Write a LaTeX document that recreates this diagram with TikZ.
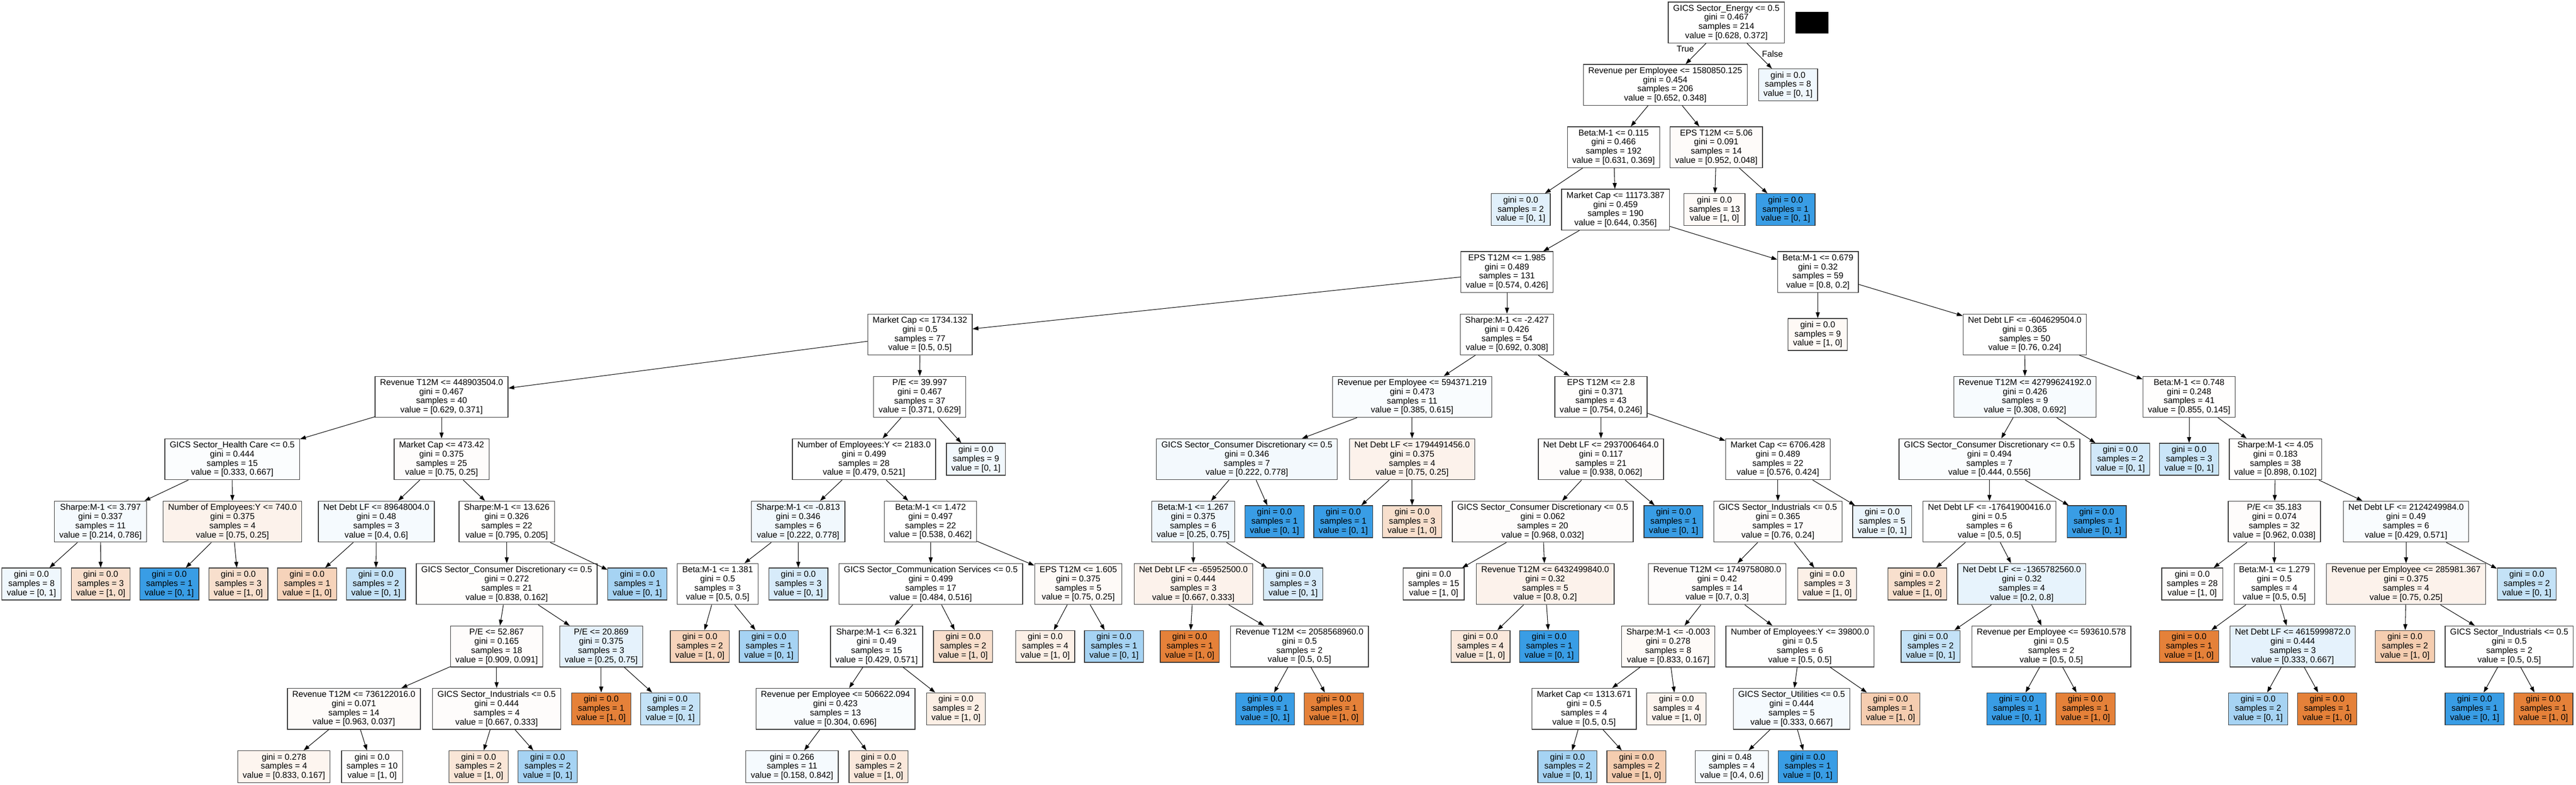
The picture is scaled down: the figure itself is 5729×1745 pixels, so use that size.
\documentclass[tikz,border=0pt]{standalone}
\usepackage{fontspec}
\setmainfont{Liberation Sans}
\usetikzlibrary{arrows.meta}
\definecolor{orng}{RGB}{229,129,57}
\definecolor{blu}{RGB}{57,157,229}
\definecolor{boxline}{RGB}{55,55,55}
\newcommand{\splitn}[4]{#1\\gini = #2\\samples = #3\\value = #4}
\newcommand{\leafn}[3]{gini = #1\\samples = #2\\value = #3}
\tikzset{
  basebox/.style={draw=boxline, line width=0.75pt, fill=white, align=center, inner xsep=5.5pt, inner ysep=0pt,
    font=\fontsize{9.5}{10.2}\selectfont},
  splitbox/.style={basebox, minimum height=45.5pt},
  leafbox/.style={basebox, minimum height=35.5pt},
  fo/.style={fill=orng!#1!white},
  fb/.style={fill=blu!#1!white},
  edge/.style={draw=black, line width=0.6pt, -{Triangle[length=6.5pt,width=4.5pt]}},
  lbl/.style={font=\fontsize{9.5}{10}\selectfont, inner sep=0pt}
}
\begin{document}
\begin{tikzpicture}[x=0.5pt,y=-0.5pt]
\useasboundingbox (0,0) rectangle (5729,1745);
\fill[white] (0,0) rectangle (5729,1745);
% level 0
\node[splitbox] (root) at (3839.5,50) {\splitn{GICS Sector\_Energy <= 0.5}{0.467}{214}{[0.628, 0.372]}};
\fill[black] (3993,26) rectangle (4066,75);
\node[lbl] (tlab) at (3748,109) {True};
\node[lbl] (flab) at (3942,120) {False};
% level 1
\node[splitbox] (n1) at (3703.5,188.7) {\splitn{Revenue per Employee <= 1580850.125}{0.454}{206}{[0.652, 0.348]}};
\node[leafbox,fb=8] (lF) at (3976.5,188.7) {\leafn{0.0}{8}{[0, 1]}};
% level 2
\node[splitbox] (n2) at (3588.5,327.4) {\splitn{Beta:M-1 <= 0.115}{0.466}{192}{[0.631, 0.369]}};
\node[splitbox,fo=3] (n3) at (3817,327.4) {\splitn{EPS T12M <= 5.06}{0.091}{14}{[0.952, 0.048]}};
% level 3
\node[leafbox,fb=15] (l3a) at (3382,466.1) {\leafn{0.0}{2}{[0, 1]}};
\node[splitbox] (n4) at (3593,466.1) {\splitn{Market Cap <= 11173.387}{0.459}{190}{[0.644, 0.356]}};
\node[leafbox,fo=4] (l3b) at (3813,466.1) {\leafn{0.0}{13}{[1, 0]}};
\node[leafbox,fb=100] (l3c) at (3971,466.1) {\leafn{0.0}{1}{[0, 1]}};
% level 4
\node[splitbox] (n5) at (3351.5,604.8) {\splitn{EPS T12M <= 1.985}{0.489}{131}{[0.574, 0.426]}};
\node[splitbox] (n6) at (4043,604.8) {\splitn{Beta:M-1 <= 0.679}{0.32}{59}{[0.8, 0.2]}};
% level 5
\node[splitbox] (n7) at (2046,743.5) {\splitn{Market Cap <= 1734.132}{0.5}{77}{[0.5, 0.5]}};
\node[splitbox] (n8) at (3351.5,743.5) {\splitn{Sharpe:M-1 <= -2.427}{0.426}{54}{[0.692, 0.308]}};
\node[leafbox,fo=5] (l5a) at (4042.5,743.5) {\leafn{0.0}{9}{[1, 0]}};
\node[splitbox] (n9) at (4503,743.5) {\splitn{Net Debt LF <= -604629504.0}{0.365}{50}{[0.76, 0.24]}};
% level 6
\node[splitbox] (n10) at (982,882.2) {\splitn{Revenue T12M <= 448903504.0}{0.467}{40}{[0.629, 0.371]}};
\node[splitbox] (n11) at (2045.5,882.2) {\splitn{P/E <= 39.997}{0.467}{37}{[0.371, 0.629]}};
\node[splitbox,fb=3] (n12) at (3140.5,882.2) {\splitn{Revenue per Employee <= 594371.219}{0.473}{11}{[0.385, 0.615]}};
\node[splitbox,fo=1] (n13) at (3560.5,882.2) {\splitn{EPS T12M <= 2.8}{0.371}{43}{[0.754, 0.246]}};
\node[splitbox,fb=4] (n14) at (4503.5,882.2) {\splitn{Revenue T12M <= 42799624192.0}{0.426}{9}{[0.308, 0.692]}};
\node[splitbox,fo=1] (n15) at (4868.5,882.2) {\splitn{Beta:M-1 <= 0.748}{0.248}{41}{[0.855, 0.145]}};
% level 7
\node[splitbox,fb=2] (n16) at (516.5,1020.9) {\splitn{GICS Sector\_Health Care <= 0.5}{0.444}{15}{[0.333, 0.667]}};
\node[splitbox,fo=2] (n17) at (982,1020.9) {\splitn{Market Cap <= 473.42}{0.375}{25}{[0.75, 0.25]}};
\node[splitbox] (n18) at (1921.5,1020.9) {\splitn{Number of Employees:Y <= 2183.0}{0.499}{28}{[0.479, 0.521]}};
\node[leafbox,fb=7] (l7a) at (2170.5,1020.9) {\leafn{0.0}{9}{[0, 1]}};
\node[splitbox,fb=6] (n19) at (2773,1020.9) {\splitn{GICS Sector\_Consumer Discretionary <= 0.5}{0.346}{7}{[0.222, 0.778]}};
\node[splitbox,fo=10] (n20) at (3140.5,1020.9) {\splitn{Net Debt LF <= 1794491456.0}{0.375}{4}{[0.75, 0.25]}};
\node[splitbox,fo=2] (n21) at (3560.5,1020.9) {\splitn{Net Debt LF <= 2937006464.0}{0.117}{21}{[0.938, 0.062]}};
\node[splitbox] (n22) at (3954,1020.9) {\splitn{Market Cap <= 6706.428}{0.489}{22}{[0.576, 0.424]}};
\node[splitbox,fb=2] (n23) at (4424.5,1020.9) {\splitn{GICS Sector\_Consumer Discretionary <= 0.5}{0.494}{7}{[0.444, 0.556]}};
\node[leafbox,fb=23] (l7b) at (4715.5,1020.9) {\leafn{0.0}{2}{[0, 1]}};
\node[leafbox,fb=27] (l7c) at (4868.5,1020.9) {\leafn{0.0}{3}{[0, 1]}};
\node[splitbox,fo=1] (n24) at (5060.5,1020.9) {\splitn{Sharpe:M-1 <= 4.05}{0.183}{38}{[0.898, 0.102]}};
% level 8
\node[splitbox,fb=5] (n25) at (223.5,1159.6) {\splitn{Sharpe:M-1 <= 3.797}{0.337}{11}{[0.214, 0.786]}};
\node[splitbox,fo=10] (n26) at (517,1159.6) {\splitn{Number of Employees:Y <= 740.0}{0.375}{4}{[0.75, 0.25]}};
\node[splitbox,fb=5] (n27) at (837,1159.6) {\splitn{Net Debt LF <= 89648004.0}{0.48}{3}{[0.4, 0.6]}};
\node[splitbox,fo=1] (n28) at (1127,1159.6) {\splitn{Sharpe:M-1 <= 13.626}{0.326}{22}{[0.795, 0.205]}};
\node[splitbox,fb=7] (n29) at (1775,1159.6) {\splitn{Sharpe:M-1 <= -0.813}{0.346}{6}{[0.222, 0.778]}};
\node[splitbox] (n30) at (2069.5,1159.6) {\splitn{Beta:M-1 <= 1.472}{0.497}{22}{[0.538, 0.462]}};
\node[splitbox,fb=8] (n31) at (2653.5,1159.6) {\splitn{Beta:M-1 <= 1.267}{0.375}{6}{[0.25, 0.75]}};
\node[leafbox,fb=100] (l8a) at (2834.5,1159.6) {\leafn{0.0}{1}{[0, 1]}};
\node[leafbox,fb=100] (l8b) at (2987.5,1159.6) {\leafn{0.0}{1}{[0, 1]}};
\node[leafbox,fo=25] (l8c) at (3140.5,1159.6) {\leafn{0.0}{3}{[1, 0]}};
\node[splitbox,fo=2] (n32) at (3431,1159.6) {\splitn{GICS Sector\_Consumer Discretionary <= 0.5}{0.062}{20}{[0.968, 0.032]}};
\node[leafbox,fb=100] (l8d) at (3722,1159.6) {\leafn{0.0}{1}{[0, 1]}};
\node[splitbox,fo=2] (n33) at (3954,1159.6) {\splitn{GICS Sector\_Industrials <= 0.5}{0.365}{17}{[0.76, 0.24]}};
\node[leafbox,fb=10] (l8e) at (4186,1159.6) {\leafn{0.0}{5}{[0, 1]}};
\node[splitbox] (n34) at (4424.5,1159.6) {\splitn{Net Debt LF <= -17641900416.0}{0.5}{6}{[0.5, 0.5]}};
\node[leafbox,fb=100] (l8f) at (4663,1159.6) {\leafn{0.0}{1}{[0, 1]}};
\node[splitbox,fo=2] (n35) at (5058,1159.6) {\splitn{P/E <= 35.183}{0.074}{32}{[0.962, 0.038]}};
\node[splitbox,fb=3] (n36) at (5351,1159.6) {\splitn{Net Debt LF <= 2124249984.0}{0.49}{6}{[0.429, 0.571]}};
% level 9
\node[leafbox,fb=8] (l9a) at (70,1298.3) {\leafn{0.0}{8}{[0, 1]}};
\node[leafbox,fo=25] (l9b) at (224,1298.3) {\leafn{0.0}{3}{[1, 0]}};
\node[leafbox,fb=100] (l9c) at (376.5,1298.3) {\leafn{0.0}{1}{[0, 1]}};
\node[leafbox,fo=25] (l9d) at (530,1298.3) {\leafn{0.0}{3}{[1, 0]}};
\node[leafbox,fo=35] (l9e) at (683,1298.3) {\leafn{0.0}{1}{[1, 0]}};
\node[leafbox,fb=30] (l9f) at (836,1298.3) {\leafn{0.0}{2}{[0, 1]}};
\node[splitbox,fo=1] (n37) at (1127,1298.3) {\splitn{GICS Sector\_Consumer Discretionary <= 0.5}{0.272}{21}{[0.838, 0.162]}};
\node[leafbox,fb=45] (l9g) at (1417.5,1298.3) {\leafn{0.0}{1}{[0, 1]}};
\node[splitbox] (n38) at (1596,1298.3) {\splitn{Beta:M-1 <= 1.381}{0.5}{3}{[0.5, 0.5]}};
\node[leafbox,fb=20] (l9h) at (1775.5,1298.3) {\leafn{0.0}{3}{[0, 1]}};
\node[splitbox] (n39) at (2070,1298.3) {\splitn{GICS Sector\_Communication Services <= 0.5}{0.499}{17}{[0.484, 0.516]}};
\node[splitbox,fo=4] (n40) at (2398,1298.3) {\splitn{EPS T12M <= 1.605}{0.375}{5}{[0.75, 0.25]}};
\node[splitbox,fo=10] (n41) at (2654,1298.3) {\splitn{Net Debt LF <= -65952500.0}{0.444}{3}{[0.667, 0.333]}};
\node[leafbox,fb=20] (l9i) at (2876,1298.3) {\leafn{0.0}{3}{[0, 1]}};
\node[leafbox,fo=2] (l9j) at (3188.5,1298.3) {\leafn{0.0}{15}{[1, 0]}};
\node[splitbox,fo=10] (n42) at (3436.5,1298.3) {\splitn{Revenue T12M <= 6432499840.0}{0.32}{5}{[0.8, 0.2]}};
\node[splitbox,fo=2] (n43) at (3819,1298.3) {\splitn{Revenue T12M <= 1749758080.0}{0.42}{14}{[0.7, 0.3]}};
\node[leafbox,fo=12] (l9k) at (4063.5,1298.3) {\leafn{0.0}{3}{[1, 0]}};
\node[leafbox,fo=25] (l9l) at (4264,1298.3) {\leafn{0.0}{2}{[1, 0]}};
\node[splitbox,fb=12] (n44) at (4496.5,1298.3) {\splitn{Net Debt LF <= -1365782560.0}{0.32}{4}{[0.2, 0.8]}};
\node[leafbox,fo=2] (l9m) at (4875.5,1298.3) {\leafn{0.0}{28}{[1, 0]}};
\node[splitbox] (n45) at (5058,1298.3) {\splitn{Beta:M-1 <= 1.279}{0.5}{4}{[0.5, 0.5]}};
\node[splitbox,fo=10] (n46) at (5351,1298.3) {\splitn{Revenue per Employee <= 285981.367}{0.375}{4}{[0.75, 0.25]}};
\node[leafbox,fb=30] (l9n) at (5619.5,1298.3) {\leafn{0.0}{2}{[0, 1]}};
% level 10
\node[splitbox,fo=2] (n47) at (1104.5,1437) {\splitn{P/E <= 52.867}{0.165}{18}{[0.909, 0.091]}};
\node[splitbox,fb=13] (n48) at (1337,1437) {\splitn{P/E <= 20.869}{0.375}{3}{[0.25, 0.75]}};
\node[leafbox,fo=35] (l10a) at (1556.5,1437) {\leafn{0.0}{2}{[1, 0]}};
\node[leafbox,fb=45] (l10b) at (1710,1437) {\leafn{0.0}{1}{[0, 1]}};
\node[splitbox,fb=1] (n49) at (1949.5,1437) {\splitn{Sharpe:M-1 <= 6.321}{0.49}{15}{[0.429, 0.571]}};
\node[leafbox,fo=25] (l10c) at (2142,1437) {\leafn{0.0}{2}{[1, 0]}};
\node[leafbox,fo=12] (l10d) at (2324.5,1437) {\leafn{0.0}{4}{[1, 0]}};
\node[leafbox,fb=45] (l10e) at (2477.5,1437) {\leafn{0.0}{1}{[0, 1]}};
\node[leafbox,fo=100] (l10f) at (2646,1437) {\leafn{0.0}{1}{[1, 0]}};
\node[splitbox] (n50) at (2890,1437) {\splitn{Revenue T12M <= 2058568960.0}{0.5}{2}{[0.5, 0.5]}};
\node[leafbox,fo=18] (l10g) at (3292.5,1437) {\leafn{0.0}{4}{[1, 0]}};
\node[leafbox,fb=100] (l10h) at (3445.5,1437) {\leafn{0.0}{1}{[0, 1]}};
\node[splitbox,fo=4] (n51) at (3710,1437) {\splitn{Sharpe:M-1 <= -0.003}{0.278}{8}{[0.833, 0.167]}};
\node[splitbox] (n52) at (4003,1437) {\splitn{Number of Employees:Y <= 39800.0}{0.5}{6}{[0.5, 0.5]}};
\node[leafbox,fb=30] (l10i) at (4293.5,1437) {\leafn{0.0}{2}{[0, 1]}};
\node[splitbox] (n53) at (4562,1437) {\splitn{Revenue per Employee <= 593610.578}{0.5}{2}{[0.5, 0.5]}};
\node[leafbox,fo=100] (l10j) at (4868.5,1437) {\leafn{0.0}{1}{[1, 0]}};
\node[splitbox,fb=13] (n54) at (5099,1437) {\splitn{Net Debt LF <= 4615999872.0}{0.444}{3}{[0.333, 0.667]}};
\node[leafbox,fo=40] (l10k) at (5348.5,1437) {\leafn{0.0}{2}{[1, 0]}};
\node[splitbox] (n55) at (5580.5,1437) {\splitn{GICS Sector\_Industrials <= 0.5}{0.5}{2}{[0.5, 0.5]}};
% level 11
\node[splitbox,fo=3] (n56) at (787,1575.7) {\splitn{Revenue T12M <= 736122016.0}{0.071}{14}{[0.963, 0.037]}};
\node[splitbox,fo=2] (n57) at (1104.5,1575.7) {\splitn{GICS Sector\_Industrials <= 0.5}{0.444}{4}{[0.667, 0.333]}};
\node[leafbox,fo=100] (l11a) at (1337,1575.7) {\leafn{0.0}{1}{[1, 0]}};
\node[leafbox,fb=30] (l11b) at (1490.5,1575.7) {\leafn{0.0}{2}{[0, 1]}};
\node[splitbox,fb=3] (n58) at (1858,1575.7) {\splitn{Revenue per Employee <= 506622.094}{0.423}{13}{[0.304, 0.696]}};
\node[leafbox,fo=13] (l11c) at (2126,1575.7) {\leafn{0.0}{2}{[1, 0]}};
\node[leafbox,fb=100] (l11d) at (2813.5,1575.7) {\leafn{0.0}{1}{[0, 1]}};
\node[leafbox,fo=100] (l11e) at (2966.5,1575.7) {\leafn{0.0}{1}{[1, 0]}};
\node[splitbox] (n59) at (3523,1575.7) {\splitn{Market Cap <= 1313.671}{0.5}{4}{[0.5, 0.5]}};
\node[leafbox,fo=8] (l11f) at (3728.5,1575.7) {\leafn{0.0}{4}{[1, 0]}};
\node[splitbox,fb=5] (n60) at (3984.5,1575.7) {\splitn{GICS Sector\_Utilities <= 0.5}{0.444}{5}{[0.333, 0.667]}};
\node[leafbox,fo=40] (l11g) at (4204.5,1575.7) {\leafn{0.0}{1}{[1, 0]}};
\node[leafbox,fb=100] (l11h) at (4484.5,1575.7) {\leafn{0.0}{1}{[0, 1]}};
\node[leafbox,fo=100] (l11i) at (4638,1575.7) {\leafn{0.0}{1}{[1, 0]}};
\node[leafbox,fb=45] (l11j) at (5022,1575.7) {\leafn{0.0}{2}{[0, 1]}};
\node[leafbox,fo=100] (l11k) at (5175.5,1575.7) {\leafn{0.0}{1}{[1, 0]}};
\node[leafbox,fb=100] (l11l) at (5503.5,1575.7) {\leafn{0.0}{1}{[0, 1]}};
\node[leafbox,fo=100] (l11m) at (5656.5,1575.7) {\leafn{0.0}{1}{[1, 0]}};
% level 12
\node[leafbox,fo=8] (l12a) at (631.5,1704.4) {\leafn{0.278}{4}{[0.833, 0.167]}};
\node[leafbox,fo=2] (l12b) at (827.5,1704.4) {\leafn{0.0}{10}{[1, 0]}};
\node[leafbox,fo=20] (l12c) at (1064.5,1704.4) {\leafn{0.0}{2}{[1, 0]}};
\node[leafbox,fb=45] (l12d) at (1218,1704.4) {\leafn{0.0}{2}{[0, 1]}};
\node[leafbox,fb=5] (l12e) at (1761.5,1704.4) {\leafn{0.266}{11}{[0.158, 0.842]}};
\node[leafbox,fo=18] (l12f) at (1954,1704.4) {\leafn{0.0}{2}{[1, 0]}};
\node[leafbox,fb=45] (l12g) at (3486,1704.4) {\leafn{0.0}{2}{[0, 1]}};
\node[leafbox,fo=40] (l12h) at (3639.5,1704.4) {\leafn{0.0}{2}{[1, 0]}};
\node[leafbox,fb=4] (l12i) at (3851.5,1704.4) {\leafn{0.48}{4}{[0.4, 0.6]}};
\node[leafbox,fb=100] (l12j) at (4020.5,1704.4) {\leafn{0.0}{1}{[0, 1]}};
% edges
\foreach \a/\b in {root/n1, root/lF,
  n1/n2, n1/n3,
  n2/l3a, n2/n4, n3/l3b, n3/l3c,
  n4/n5, n4/n6,
  n5/n7, n5/n8, n6/l5a, n6/n9,
  n7/n10, n7/n11, n8/n12, n8/n13, n9/n14, n9/n15,
  n10/n16, n10/n17, n11/n18, n11/l7a, n12/n19, n12/n20, n13/n21, n13/n22, n14/n23, n14/l7b, n15/l7c, n15/n24,
  n16/n25, n16/n26, n17/n27, n17/n28, n18/n29, n18/n30, n19/n31, n19/l8a, n20/l8b, n20/l8c, n21/n32, n21/l8d, n22/n33, n22/l8e, n23/n34, n23/l8f, n24/n35, n24/n36,
  n25/l9a, n25/l9b, n26/l9c, n26/l9d, n27/l9e, n27/l9f, n28/n37, n28/l9g, n29/n38, n29/l9h, n30/n39, n30/n40, n31/n41, n31/l9i, n32/l9j, n32/n42, n33/n43, n33/l9k, n34/l9l, n34/n44, n35/l9m, n35/n45, n36/n46, n36/l9n,
  n37/n47, n37/n48, n38/l10a, n38/l10b, n39/n49, n39/l10c, n40/l10d, n40/l10e, n41/l10f, n41/n50, n42/l10g, n42/l10h, n43/n51, n43/n52, n44/l10i, n44/n53, n45/l10j, n45/n54, n46/l10k, n46/n55,
  n47/n56, n47/n57, n48/l11a, n48/l11b, n49/n58, n49/l11c, n50/l11d, n50/l11e, n51/n59, n51/l11f, n52/n60, n52/l11g, n53/l11h, n53/l11i, n54/l11j, n54/l11k, n55/l11l, n55/l11m,
  n56/l12a, n56/l12b, n57/l12c, n57/l12d, n58/l12e, n58/l12f, n59/l12g, n59/l12h, n60/l12i, n60/l12j}
  \draw[edge] (\a) -- (\b);
\end{tikzpicture}
\end{document}
